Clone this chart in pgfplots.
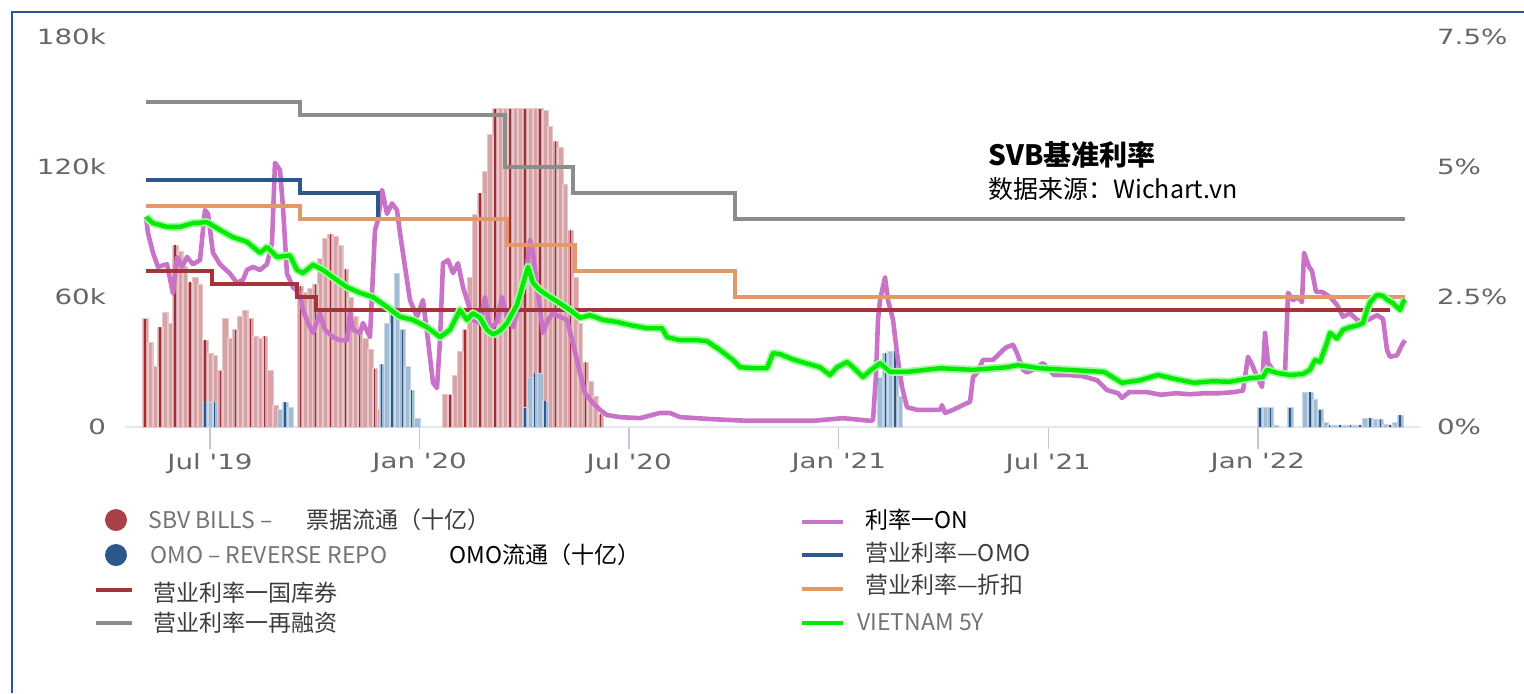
\documentclass[border=0pt]{standalone}
\usepackage{pgfplots}
\pgfplotsset{compat=1.18}
\usepackage{pgfplotstable}
\usepackage{fontspec}
\setmainfont{Noto Sans CJK SC}
\newfontfamily\cjk{Noto Sans CJK SC}
\newfontfamily\tickfont[FakeStretch=1.32]{DejaVu Sans}

\definecolor{sbvpink}{RGB}{216,163,166}
\definecolor{sbvred}{RGB}{158,45,52}
\definecolor{omofill}{RGB}{162,188,214}
\definecolor{omoblue}{RGB}{44,88,138}
\definecolor{refgray}{RGB}{140,140,140}
\definecolor{discorange}{RGB}{226,152,104}
\definecolor{tbred}{RGB}{162,52,58}
\definecolor{onpink}{RGB}{200,115,200}
\definecolor{vngreen}{RGB}{0,235,0}
\definecolor{frameblue}{RGB}{47,85,150}
\definecolor{tickgray}{RGB}{102,102,102}
\definecolor{tickblue}{RGB}{190,200,216}
\definecolor{axisfaint}{RGB}{228,232,240}
\definecolor{leggray}{RGB}{115,115,115}
\definecolor{legdark}{RGB}{60,60,60}

% SBV bills outstanding (thousand billion VND), x = months since Dec 2018
\pgfplotstableread{
m k
4.14 50
4.28 39
4.43 28
4.57 46
4.71 53
4.85 48
5.00 84
5.14 81
5.28 74
5.43 67
5.57 69
5.71 66
5.86 40
6.00 34
6.14 33
6.29 26
6.43 50
6.57 41
6.72 45
6.86 51
7.00 54
7.15 50
7.29 42
7.43 41
7.57 42
7.72 26
7.86 10
8.00 8
8.15 6
8.29 3
8.58 65
8.72 62
8.86 64
9.01 66
9.15 78
9.29 87
9.44 89
9.58 88
9.72 84
9.87 73
10.01 60
10.15 51
10.29 45
10.44 41
10.58 36
10.72 27
10.87 8
12.73 15
12.87 15
13.01 24
13.16 35
13.30 45
13.44 69
13.59 98
13.73 108
13.87 118
14.02 135
14.16 147
14.30 147
14.45 147
14.59 147
14.73 147
14.87 147
15.02 147
15.16 147
15.30 147
15.45 147
15.59 146
15.73 139
15.88 132
16.02 129
16.16 112
16.31 91
16.45 69
16.59 48
16.74 30
16.88 21
17.02 14
17.17 6
}\sbv

% OMO reverse repo outstanding
\pgfplotstableread{
m k
5.86 11.5
6.00 11.5
6.14 11.5
8.00 8
8.15 11.5
8.29 9
10.92 29
11.07 48
11.21 53
11.35 71
11.50 45
11.64 28
11.78 17
11.93 4
15.02 9
15.16 23
15.30 25
15.45 25
15.59 12
25.18 23
25.33 34
25.47 35
25.61 35
25.75 14
36.06 9
36.20 9
36.35 9
36.49 1
36.92 9
37.35 16
37.49 16
37.63 13
37.78 8
37.92 2
38.06 1
38.21 1
38.35 1
38.49 1
38.64 1
38.78 1
38.92 1
39.07 4
39.21 4
39.35 3.5
39.50 3.5
39.64 1.5
39.78 1
39.92 2
40.07 5.5
}\omo

% overnight interbank rate (%)
\pgfplotstableread{
m r
4.168 4.04
4.225 3.73
4.368 3.35
4.511 3.08
4.769 3.13
4.941 2.57
5.055 3.27
5.198 3.08
5.342 3.27
5.513 3.13
5.714 3.21
5.857 4.17
5.943 4.10
6.086 3.35
6.286 3.13
6.573 2.95
6.773 2.77
6.945 2.83
7.059 3.02
7.231 3.08
7.431 3.02
7.632 3.13
7.775 3.54
7.861 5.08
8.004 4.94
8.090 4.23
8.204 2.95
8.376 2.69
8.577 2.57
8.662 2.25
8.806 2.00
8.949 1.81
9.149 2.19
9.292 1.87
9.521 1.73
9.722 1.67
9.922 1.67
10.008 2.19
10.094 1.87
10.294 1.81
10.380 2.00
10.581 1.73
10.724 3.79
10.810 3.98
10.924 4.56
11.067 4.10
11.211 4.30
11.354 4.17
11.440 3.73
11.583 3.08
11.726 2.44
11.926 2.12
12.097 2.44
12.241 1.67
12.384 0.85
12.499 0.75
12.585 1.67
12.671 3.15
12.814 3.21
12.957 2.96
13.100 3.15
13.243 2.69
13.386 2.38
13.529 2.06
13.730 2.00
13.873 2.50
14.016 1.87
14.217 2.03
14.360 2.50
14.503 2.12
14.675 1.92
14.875 2.38
15.076 3.08
15.161 3.60
15.247 3.35
15.390 2.58
15.534 1.81
15.677 2.06
15.820 2.19
16.020 2.12
16.221 2.06
16.392 1.61
16.593 1.04
16.736 0.65
16.965 0.46
17.165 0.33
17.366 0.23
17.738 0.19
18.310 0.17
18.883 0.27
19.169 0.27
19.455 0.19
20.400 0.15
21.374 0.12
22.319 0.12
23.264 0.12
24.122 0.17
24.895 0.12
24.981 0.13
25.067 1.00
25.124 2.06
25.182 2.44
25.325 2.88
25.411 2.44
25.554 2.06
25.668 1.42
25.811 0.77
25.955 0.38
26.241 0.33
26.899 0.33
26.956 0.42
27.042 0.27
27.271 0.33
27.672 0.46
27.758 0.48
27.844 0.96
27.958 1.04
28.130 1.29
28.417 1.29
28.703 1.48
28.818 1.54
28.989 1.58
29.104 1.42
29.275 1.10
29.390 1.05
29.562 1.10
29.848 1.23
30.163 1.00
30.564 1.00
30.964 0.98
31.394 0.90
31.680 0.71
31.995 0.65
32.110 0.56
32.310 0.67
32.826 0.67
33.226 0.62
33.656 0.65
34.056 0.63
34.486 0.65
34.887 0.65
35.288 0.67
35.574 0.70
35.717 1.35
35.832 1.20
35.975 0.96
36.118 0.77
36.204 1.81
36.290 1.23
36.433 1.10
36.634 1.04
36.777 1.06
36.863 2.58
37.006 2.44
37.149 2.50
37.263 2.40
37.320 3.35
37.463 3.08
37.549 3.00
37.664 2.60
37.835 2.60
38.064 2.50
38.265 2.35
38.437 2.12
38.637 2.19
38.838 2.06
39.009 2.02
39.210 2.08
39.410 2.15
39.582 2.08
39.696 1.48
39.782 1.35
39.983 1.38
40.126 1.58
40.211 1.67
}\onrate

% Vietnam 5Y government bond yield (%)
\pgfplotstableread{
m r
4.168 4.04
4.368 3.92
4.769 3.85
5.141 3.85
5.513 3.92
5.914 3.94
6.286 3.79
6.658 3.65
7.059 3.56
7.431 3.35
7.632 3.46
7.918 3.27
8.290 3.30
8.491 3.02
8.662 2.96
8.949 3.12
9.235 3.02
9.521 2.88
9.922 2.69
10.294 2.58
10.666 2.50
11.067 2.31
11.440 2.12
11.812 2.06
12.212 1.92
12.585 1.73
12.871 1.87
13.157 2.25
13.358 2.06
13.529 2.19
13.730 2.10
13.930 1.87
14.102 1.78
14.302 1.85
14.503 2.00
14.789 2.35
15.104 3.08
15.247 2.77
15.448 2.63
15.734 2.50
16.020 2.38
16.306 2.25
16.593 2.10
16.879 2.15
17.251 2.06
17.652 2.02
18.024 1.96
18.510 1.90
18.940 1.90
19.083 1.73
19.455 1.67
19.942 1.67
20.228 1.65
20.600 1.48
20.972 1.29
21.173 1.15
21.546 1.13
21.947 1.13
22.118 1.42
22.319 1.40
22.691 1.30
23.092 1.22
23.464 1.15
23.750 1.00
23.951 1.15
24.237 1.25
24.409 1.15
24.695 0.96
24.895 1.08
25.182 1.23
25.468 1.06
25.955 1.06
26.899 1.13
27.844 1.10
28.818 1.15
29.132 1.19
29.762 1.13
30.564 1.10
31.594 1.06
32.110 0.85
32.625 0.90
33.140 1.00
33.656 0.92
34.171 0.85
34.687 0.88
35.202 0.87
35.775 0.94
36.147 0.96
36.261 1.10
36.548 1.04
36.920 1.00
37.292 1.02
37.492 1.10
37.635 1.29
37.778 1.25
37.978 1.62
38.064 1.81
38.265 1.70
38.437 1.87
38.637 1.92
38.838 1.95
39.009 2.00
39.124 2.25
39.210 2.40
39.410 2.54
39.582 2.52
39.696 2.45
39.868 2.38
40.068 2.25
40.154 2.40
40.211 2.45
}\vnfive

\begin{document}
\begin{tikzpicture}
% outer frame (top and left)
\draw[frameblue, line width=1pt] (6pt,-346.5pt) -- (6pt,-6pt) -- (762pt,-6pt);

\begin{axis}[
  at={(62.5pt,-213.5pt)}, anchor=south west,
  width=647.5pt, height=195pt, scale only axis,
  xmin=3.567, xmax=40.641, ymin=0, ymax=180,
  axis x line*=bottom, axis y line*=left,
  x axis line style={draw=axisfaint, line width=0.6pt},
  y axis line style={draw=none},
  xtick={6,12,18,24,30,36},
  xticklabels={Jul '19,Jan '20,Jul '20,Jan '21,Jul '21,Jan '22},
  ytick={0,60,120,180},
  yticklabels={0,60k,120k,180k},
  tick align=outside,
  major tick length=11pt,
  xtick style={draw=tickblue, line width=0.7pt},
  ytick style={draw=none},
  ticklabel style={font=\tickfont\fontsize{10.5}{12}\selectfont, text=tickgray},
  xticklabel style={yshift=1.5pt},
  yticklabel style={xshift=5pt},
  bar width=0.16, bar shift=0pt,
  clip=false,
]
\addplot[ybar, fill=sbvpink, draw=sbvpink!60!white, line width=0.2pt] table[x=m,y=k] {\sbv};
\addplot[ycomb, sbvred, line width=0.6pt, each nth point=3] table[x=m,y=k] {\sbv};
\addplot[ybar, fill=omofill, draw=omofill!60!white, line width=0.2pt] table[x=m,y=k] {\omo};
\addplot[ycomb, omoblue, line width=0.6pt, each nth point=2] table[x=m,y=k] {\omo};
\end{axis}

\begin{axis}[
  at={(62.5pt,-213.5pt)}, anchor=south west,
  width=647.5pt, height=195pt, scale only axis,
  xmin=3.567, xmax=40.641, ymin=0, ymax=7.5,
  hide x axis,
  axis y line*=right,
  y axis line style={draw=none},
  ytick={0,2.5,5,7.5},
  yticklabels={0\%,2.5\%,5\%,7.5\%},
  ytick style={draw=none},
  major tick length=0pt,
  yticklabel style={font=\tickfont\fontsize{10.5}{12}\selectfont, text=tickgray, anchor=west, xshift=5pt},
]
\addplot[onpink, line width=2.3pt, line join=round] table[x=m,y=r] {\onrate};
\addplot[const plot, refgray, line width=2pt] coordinates {(4.168,6.25) (8.58,6.0) (14.45,5.0) (16.39,4.5) (21.03,4.0) (40.211,4.0)};
\addplot[const plot, omoblue, line width=2pt] coordinates {(4.168,4.75) (8.58,4.5) (10.80,4.0) (14.50,3.5) (16.45,3.0) (21.03,2.5) (40.211,2.5)};
\addplot[const plot, discorange, line width=2pt] coordinates {(4.168,4.25) (8.58,4.0) (14.50,3.5) (16.45,3.0) (21.03,2.5) (40.211,2.5)};
\addplot[const plot, tbred, line width=2pt] coordinates {(4.168,3.0) (6.06,2.75) (8.49,2.5) (9.03,2.25) (39.78,2.25)};
\addplot[vngreen!35, line width=4pt, line join=round] table[x=m,y=r] {\vnfive};
\addplot[vngreen, line width=2.2pt, line join=round] table[x=m,y=r] {\vnfive};
\end{axis}

\begin{scope}[x=0.5pt, y=-0.5pt]
% annotation
\node[anchor=west, inner sep=0pt, font=\cjk\bfseries\fontsize{14}{16}\selectfont] at (988,155) {SVB基准利率};
\node[anchor=west, inner sep=0pt, font=\cjk\fontsize{12.5}{14}\selectfont] at (988,189) {数据来源：Wichart.vn};
% legend, left column
\fill[sbvred!90!white] (116,520) circle[radius=11];
\fill[omoblue] (116,555) circle[radius=11];
\draw[tbred, line width=2.4pt] (96,590) -- (132,590);
\draw[refgray, line width=2.4pt] (96,623) -- (132,623);
\node[anchor=west, inner sep=0pt, text=leggray, font=\cjk\fontsize{11.5}{13}\selectfont] at (148,520) {SBV BILLS –};
\node[anchor=west, inner sep=0pt, text=legdark, font=\cjk\fontsize{11.5}{13}\selectfont] at (306,520) {票据流通（十亿）};
\node[anchor=west, inner sep=0pt, text=leggray, font=\cjk\fontsize{11.5}{13}\selectfont] at (150,555) {OMO – REVERSE REPO};
\node[anchor=west, inner sep=0pt, text=black, font=\cjk\fontsize{11.5}{13}\selectfont] at (449,555) {OMO流通（十亿）};
\node[anchor=west, inner sep=0pt, text=legdark, font=\cjk\fontsize{11.5}{13}\selectfont] at (153,593) {营业利率一国库券};
\node[anchor=west, inner sep=0pt, text=legdark, font=\cjk\fontsize{11.5}{13}\selectfont] at (153,623) {营业利率一再融资};
% legend, right column
\draw[onpink, line width=2.4pt] (802,522) -- (843,522);
\draw[omoblue, line width=2.4pt] (802,555) -- (843,555);
\draw[discorange, line width=2.4pt] (802,589) -- (843,589);
\draw[vngreen, line width=2.4pt] (802,623) -- (843,623);
\node[anchor=west, inner sep=0pt, text=black, font=\cjk\fontsize{11.5}{13}\selectfont] at (865,520) {利率一ON};
\node[anchor=west, inner sep=0pt, text=legdark, font=\cjk\fontsize{11.5}{13}\selectfont] at (865,553) {营业利率—OMO};
\node[anchor=west, inner sep=0pt, text=legdark, font=\cjk\fontsize{11.5}{13}\selectfont] at (865,585) {营业利率—折扣};
\node[anchor=west, inner sep=0pt, text=leggray, font=\cjk\fontsize{11.5}{13}\selectfont] at (857,622) {VIETNAM 5Y};
\end{scope}

\pgfresetboundingbox
\path[use as bounding box] (0pt,0pt) rectangle (762pt,-346.5pt);
\end{tikzpicture}
\end{document}
